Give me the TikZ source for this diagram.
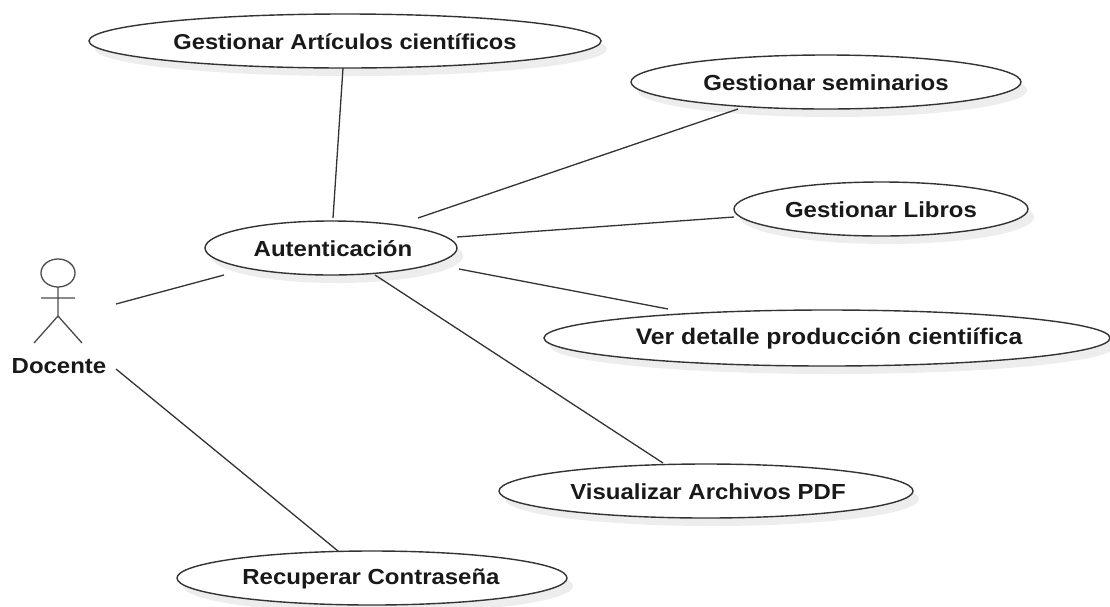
\documentclass[tikz,border=0pt]{standalone}
\usepackage{fontspec}
\setmainfont[FakeStretch=1.1]{Liberation Sans}
\begin{document}
\begin{tikzpicture}[x=1pt,y=-1pt,
uc/.style={draw=black!80,fill=white,line width=1.4pt},
sh/.style={fill=black!7,draw=none},
conn/.style={draw=black!80,line width=1.3pt},
actor/.style={draw=black!70,line width=1.3pt},
lab/.style={font=\bfseries\fontsize{#1}{24}\selectfont,text=black!90,inner sep=0},
lab/.default=21.8]
\useasboundingbox (0,0) rectangle (1110,606);
\fill[white] (0,0) rectangle (1110,606);
\foreach \x/\y/\a/\b in {345/41/256/27, 826/82/195/27, 881/209/147/27, 331/248/126/27, 827/338/283/28, 706/491/207/27, 372/578/195/27}{
 \fill[sh] (\x+6,\y+8) ellipse ({\a} and {\b});
 \draw[uc] (\x,\y) ellipse ({\a} and {\b});
}
\node[lab=21.5] (a) at (345,42) {Gestionar Artículos científicos};
\node[lab] (b) at (826,83) {Gestionar seminarios};
\node[lab] (c) at (881,210) {Gestionar Libros};
\node[lab] (d) at (333,249) {Autenticación};
\node[lab=22.5] (e) at (829,339) {Ver detalle producción cientiífica};
\node[lab] (f) at (708,492) {Visualizar Archivos PDF};
\node[lab] (g) at (371,579) {Recuperar Contraseña};
\node[lab] (h) at (59,366) {Docente};
\coordinate (a1) at (343,68); \coordinate (a2) at (333,218);
\coordinate (b1) at (738,109); \coordinate (b2) at (418,218);
\coordinate (c1) at (734,217); \coordinate (c2) at (457,237);
\coordinate (e1) at (668,309); \coordinate (e2) at (459,269);
\coordinate (f1) at (663,463); \coordinate (f2) at (375,275);
\coordinate (h1) at (116,304); \coordinate (h2) at (224,275);
\coordinate (g1) at (338,551); \coordinate (g2) at (116,369);
\foreach \p/\q in {a1/a2,b1/b2,c1/c2,e1/e2,f1/f2,h1/h2,g1/g2}{\draw[conn] (\p)--(\q);}
\draw[actor,fill=white] (58,273) ellipse (17 and 14);
\draw[actor] (58,287)--(58,316) (41,298)--(75,298) (58,316)--(34,343) (58,316)--(82,343);
\end{tikzpicture}
\end{document}
